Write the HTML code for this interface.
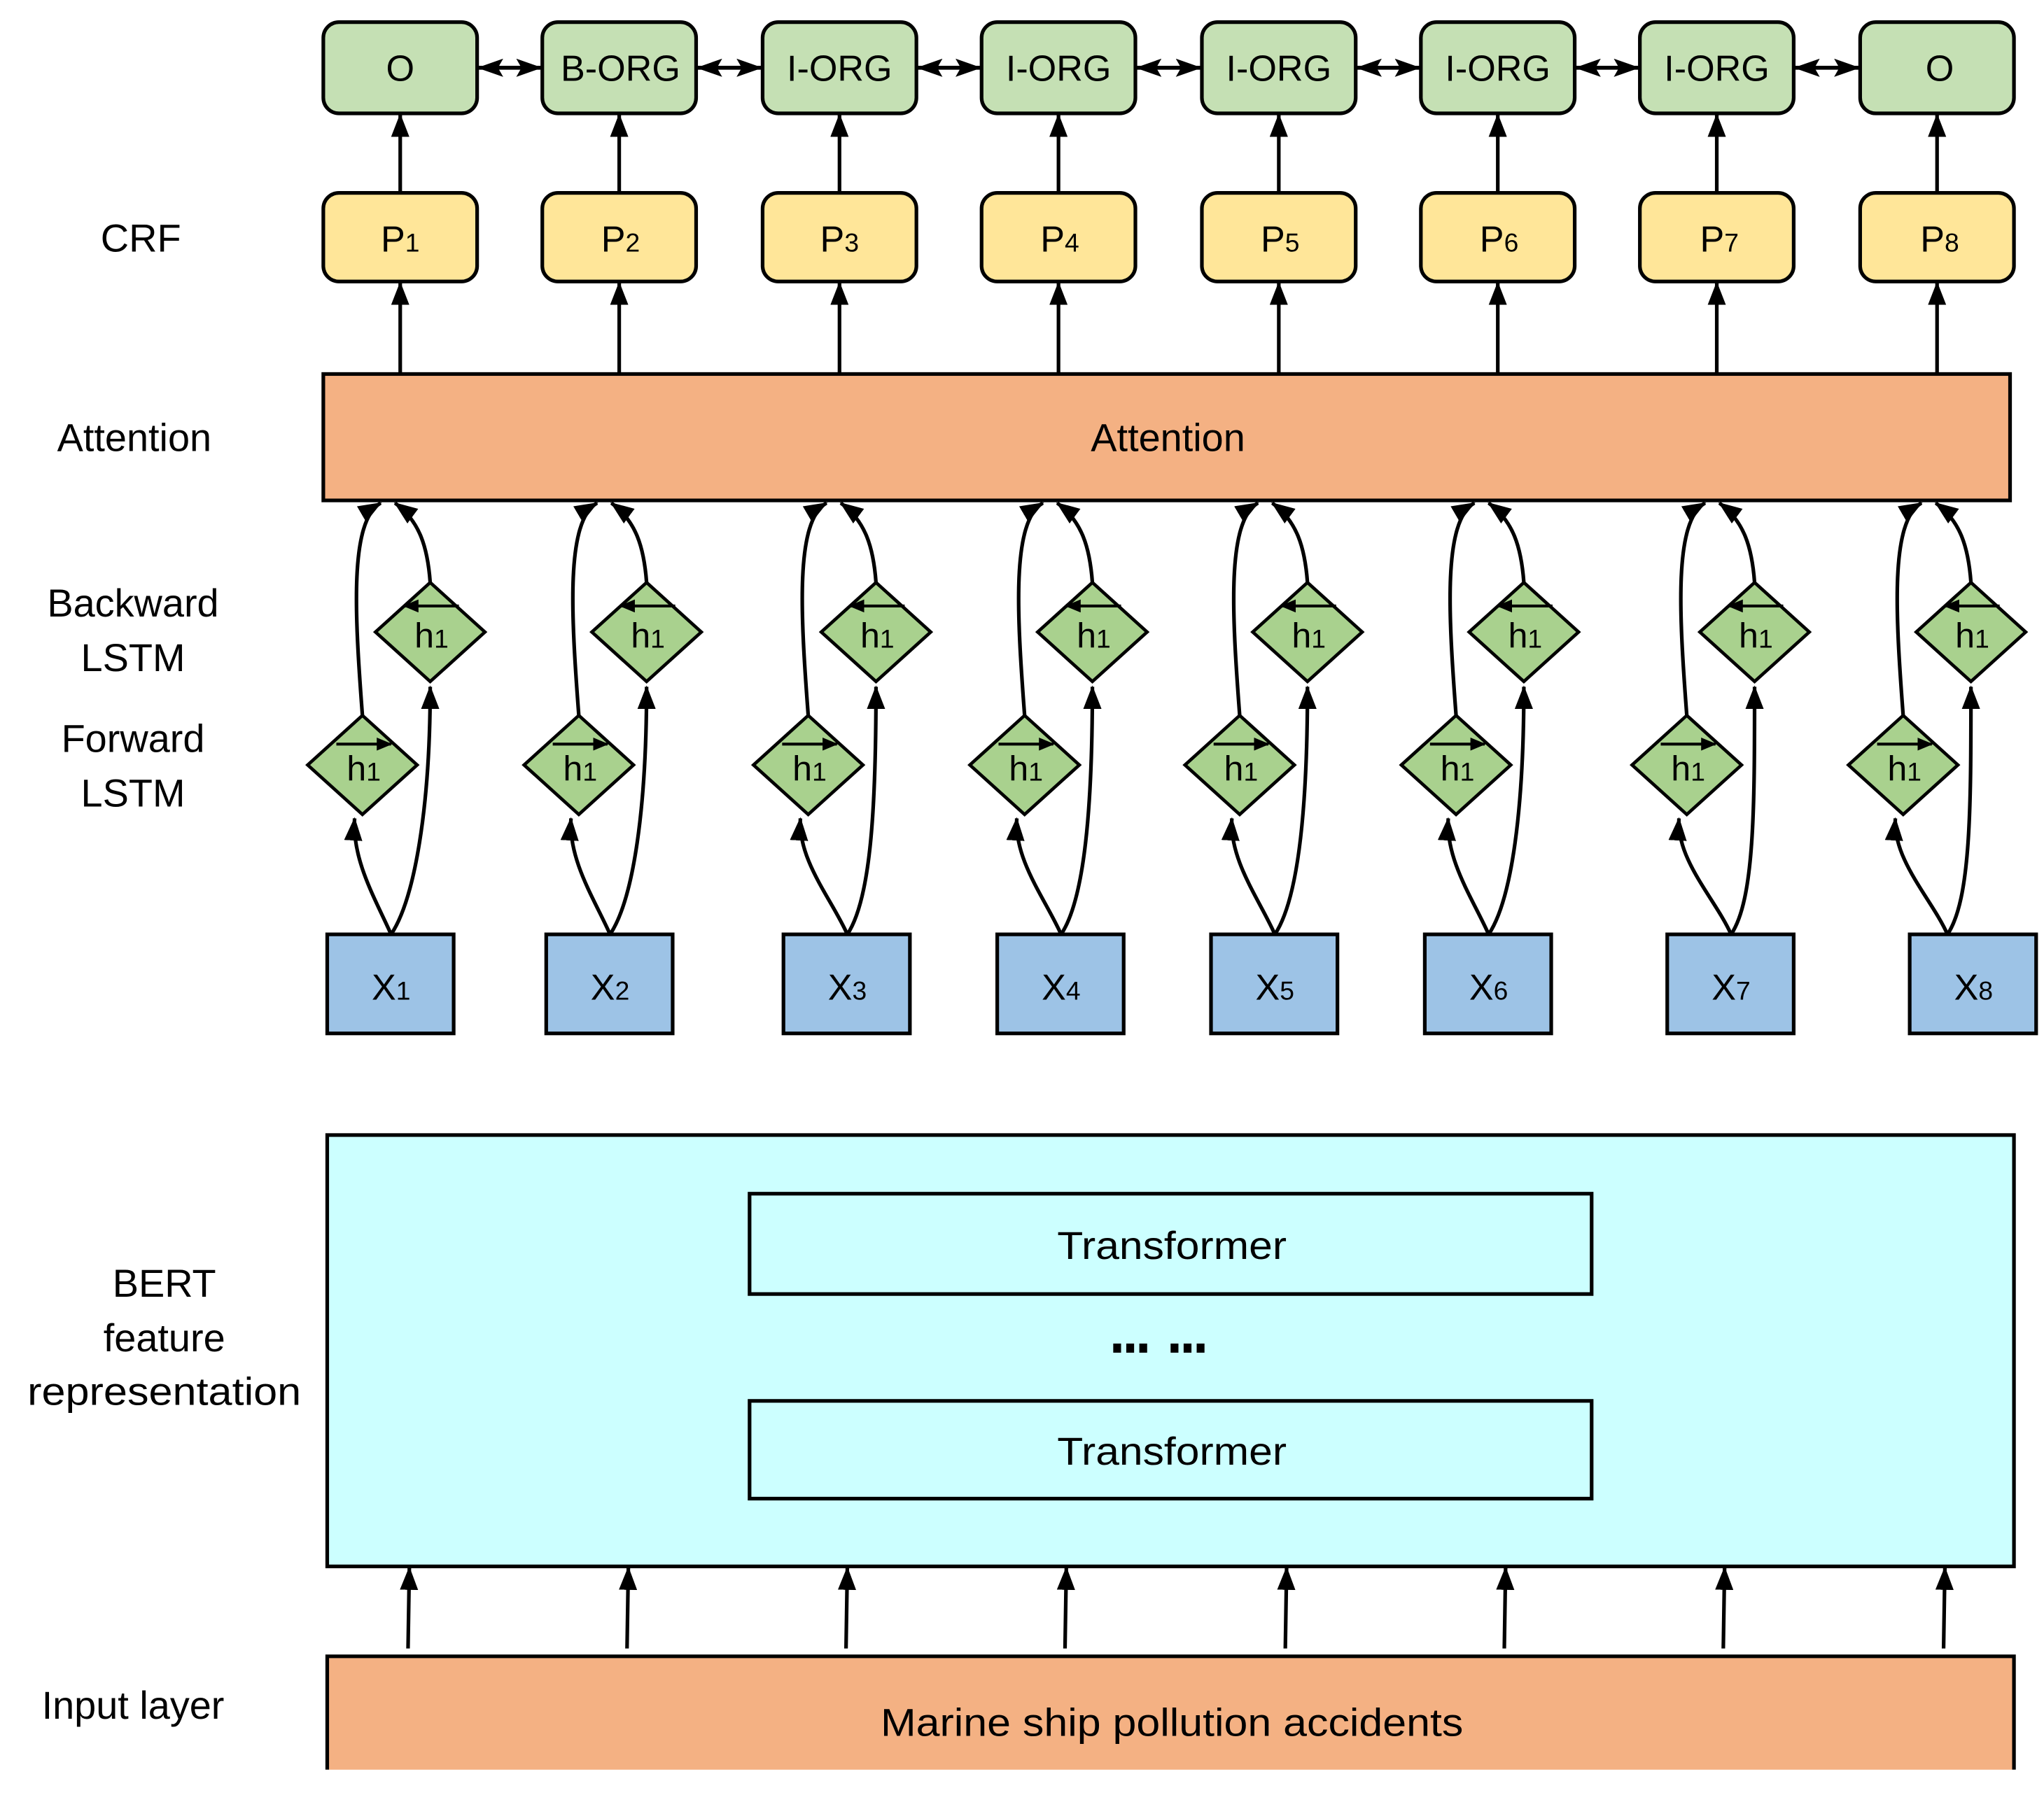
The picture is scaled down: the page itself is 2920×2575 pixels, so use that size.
<!DOCTYPE html>
<html><head><meta charset="utf-8"><style>
html,body{margin:0;padding:0;background:#fff;}
svg{display:block;}
text{font-family:"Liberation Sans",sans-serif;fill:#000;}
</style></head><body>
<svg width="2920" height="2575" viewBox="0 0 1568 1382.8" xmlns="http://www.w3.org/2000/svg">
<defs>
<marker id="a" markerUnits="userSpaceOnUse" markerWidth="18" markerHeight="14" refX="17" refY="7" orient="auto"><path d="M0,0 L18,7 L0,14 Z" fill="#000"/></marker>
<marker id="s" markerUnits="userSpaceOnUse" markerWidth="12" markerHeight="10" refX="11" refY="5" orient="auto"><path d="M0,0 L12,5 L0,10 Z" fill="#000"/></marker>
<marker id="d" markerUnits="userSpaceOnUse" markerWidth="20" markerHeight="14" refX="19" refY="7" orient="auto"><path d="M0,0 L20,7 L0,14 L4,7 Z" fill="#000"/></marker>
<marker id="ds" markerUnits="userSpaceOnUse" markerWidth="20" markerHeight="14" refX="1" refY="7" orient="auto"><path d="M20,0 L0,7 L20,14 L16,7 Z" fill="#000"/></marker>
</defs>

<!-- left labels -->
<g font-size="30" text-anchor="middle">
<text x="108" y="193">CRF</text>
<text x="103" y="346">Attention</text>
<text x="102" y="473">Backward</text>
<text x="102" y="515">LSTM</text>
<text x="102" y="577">Forward</text>
<text x="102" y="619">LSTM</text>
<text x="126" y="995">BERT</text>
<text x="126" y="1037">feature</text>
<text x="126" y="1078" textLength="210" lengthAdjust="spacingAndGlyphs">representation</text>
<text x="102" y="1319">Input layer</text>
</g>

<!-- output label boxes -->
<g fill="#c5e0b4" stroke="#000" stroke-width="2.8">
<rect x="248" y="17" width="118" height="70" rx="12"/>
<rect x="416" y="17" width="118" height="70" rx="12"/>
<rect x="585" y="17" width="118" height="70" rx="12"/>
<rect x="753" y="17" width="118" height="70" rx="12"/>
<rect x="922" y="17" width="118" height="70" rx="12"/>
<rect x="1090" y="17" width="118" height="70" rx="12"/>
<rect x="1258" y="17" width="118" height="70" rx="12"/>
<rect x="1427" y="17" width="118" height="70" rx="12"/>
</g>
<g font-size="28" text-anchor="middle">
<text x="307" y="62">O</text>
<text x="476" y="62">B-ORG</text>
<text x="644" y="62">I-ORG</text>
<text x="812" y="62">I-ORG</text>
<text x="981" y="62">I-ORG</text>
<text x="1149" y="62">I-ORG</text>
<text x="1317" y="62">I-ORG</text>
<text x="1488" y="62">O</text>
</g>
<g stroke="#000" stroke-width="3" marker-start="url(#ds)" marker-end="url(#d)">
<line x1="367" y1="52" x2="415" y2="52"/>
<line x1="535" y1="52" x2="584" y2="52"/>
<line x1="704" y1="52" x2="752" y2="52"/>
<line x1="872" y1="52" x2="921" y2="52"/>
<line x1="1041" y1="52" x2="1089" y2="52"/>
<line x1="1209" y1="52" x2="1257" y2="52"/>
<line x1="1377" y1="52" x2="1426" y2="52"/>
</g>

<!-- P boxes -->
<g fill="#ffe699" stroke="#000" stroke-width="2.8">
<rect x="248" y="148" width="118" height="68" rx="12"/>
<rect x="416" y="148" width="118" height="68" rx="12"/>
<rect x="585" y="148" width="118" height="68" rx="12"/>
<rect x="753" y="148" width="118" height="68" rx="12"/>
<rect x="922" y="148" width="118" height="68" rx="12"/>
<rect x="1090" y="148" width="118" height="68" rx="12"/>
<rect x="1258" y="148" width="118" height="68" rx="12"/>
<rect x="1427" y="148" width="118" height="68" rx="12"/>
</g>
<g font-size="28" text-anchor="middle">
<text x="307" y="193">P<tspan font-size="20">1</tspan></text>
<text x="476" y="193">P<tspan font-size="20">2</tspan></text>
<text x="644" y="193">P<tspan font-size="20">3</tspan></text>
<text x="813" y="193">P<tspan font-size="20">4</tspan></text>
<text x="982" y="193">P<tspan font-size="20">5</tspan></text>
<text x="1150" y="193">P<tspan font-size="20">6</tspan></text>
<text x="1319" y="193">P<tspan font-size="20">7</tspan></text>
<text x="1488" y="193">P<tspan font-size="20">8</tspan></text>
</g>

<!-- vertical arrows -->
<g stroke="#000" stroke-width="2.8" marker-end="url(#a)">
<line x1="307" y1="148" x2="307" y2="88"/><line x1="475" y1="148" x2="475" y2="88"/>
<line x1="644" y1="148" x2="644" y2="88"/><line x1="812" y1="148" x2="812" y2="88"/>
<line x1="981" y1="148" x2="981" y2="88"/><line x1="1149" y1="148" x2="1149" y2="88"/>
<line x1="1317" y1="148" x2="1317" y2="88"/><line x1="1486" y1="148" x2="1486" y2="88"/>
<line x1="307" y1="287" x2="307" y2="217"/><line x1="475" y1="287" x2="475" y2="217"/>
<line x1="644" y1="287" x2="644" y2="217"/><line x1="812" y1="287" x2="812" y2="217"/>
<line x1="981" y1="287" x2="981" y2="217"/><line x1="1149" y1="287" x2="1149" y2="217"/>
<line x1="1317" y1="287" x2="1317" y2="217"/><line x1="1486" y1="287" x2="1486" y2="217"/>
</g>

<!-- Attention -->
<rect x="248" y="287" width="1294" height="97" fill="#f4b183" stroke="#000" stroke-width="2.8"/>
<text x="896" y="346" font-size="30" text-anchor="middle">Attention</text>

<!-- LSTM curves -->
<g fill="none" stroke="#000" stroke-width="2.8" marker-end="url(#a)">
<path d="M300,717 C288,690 270,660 272,628"/><path d="M300,717 C318,690 330,620 330,527"/><path d="M278,549 C272,470 268,400 292,386"/><path d="M330,447 C328,420 322,400 303,386"/>
<path d="M468,717 C456,690 436,660 438,628"/><path d="M468,717 C486,690 496,620 496,527"/><path d="M444,549 C438,470 434,400 458,386"/><path d="M496,447 C494,420 488,400 469,386"/>
<path d="M650,717 C638,690 612,660 614,628"/><path d="M650,717 C668,690 672,620 672,527"/><path d="M620,549 C614,470 610,400 634,386"/><path d="M672,447 C670,420 664,400 645,386"/>
<path d="M814,717 C802,690 778,660 780,628"/><path d="M814,717 C832,690 838,620 838,527"/><path d="M786,549 C780,470 776,400 800,386"/><path d="M838,447 C836,420 830,400 811,386"/>
<path d="M978,717 C966,690 943,660 945,628"/><path d="M978,717 C996,690 1003,620 1003,527"/><path d="M951,549 C945,470 941,400 965,386"/><path d="M1003,447 C1001,420 995,400 976,386"/>
<path d="M1142,717 C1130,690 1109,660 1111,628"/><path d="M1142,717 C1160,690 1169,620 1169,527"/><path d="M1117,549 C1111,470 1107,400 1131,386"/><path d="M1169,447 C1167,420 1161,400 1142,386"/>
<path d="M1328,717 C1316,690 1286,660 1288,628"/><path d="M1328,717 C1346,690 1346,620 1346,527"/><path d="M1294,549 C1288,470 1284,400 1308,386"/><path d="M1346,447 C1344,420 1338,400 1319,386"/>
<path d="M1494,717 C1482,690 1452,660 1454,628"/><path d="M1494,717 C1512,690 1512,620 1512,527"/><path d="M1460,549 C1454,470 1450,400 1474,386"/><path d="M1512,447 C1510,420 1504,400 1485,386"/>
</g>

<!-- diamonds -->
<g fill="#a9d18e" stroke="#000" stroke-width="2.5">
<path d="M278,549 L320,587 L278,625 L236,587 Z"/><path d="M330,447 L372,485 L330,523 L288,485 Z"/>
<path d="M444,549 L486,587 L444,625 L402,587 Z"/><path d="M496,447 L538,485 L496,523 L454,485 Z"/>
<path d="M620,549 L662,587 L620,625 L578,587 Z"/><path d="M672,447 L714,485 L672,523 L630,485 Z"/>
<path d="M786,549 L828,587 L786,625 L744,587 Z"/><path d="M838,447 L880,485 L838,523 L796,485 Z"/>
<path d="M951,549 L993,587 L951,625 L909,587 Z"/><path d="M1003,447 L1045,485 L1003,523 L961,485 Z"/>
<path d="M1117,549 L1159,587 L1117,625 L1075,587 Z"/><path d="M1169,447 L1211,485 L1169,523 L1127,485 Z"/>
<path d="M1294,549 L1336,587 L1294,625 L1252,587 Z"/><path d="M1346,447 L1388,485 L1346,523 L1304,485 Z"/>
<path d="M1460,549 L1502,587 L1460,625 L1418,587 Z"/><path d="M1512,447 L1554,485 L1512,523 L1470,485 Z"/>
</g>
<g stroke="#000" stroke-width="2.2" marker-end="url(#s)">
<line x1="258" y1="571" x2="300" y2="571"/><line x1="352" y1="465" x2="310" y2="465"/>
<line x1="424" y1="571" x2="466" y2="571"/><line x1="518" y1="465" x2="476" y2="465"/>
<line x1="600" y1="571" x2="642" y2="571"/><line x1="694" y1="465" x2="652" y2="465"/>
<line x1="766" y1="571" x2="808" y2="571"/><line x1="860" y1="465" x2="818" y2="465"/>
<line x1="931" y1="571" x2="973" y2="571"/><line x1="1025" y1="465" x2="983" y2="465"/>
<line x1="1097" y1="571" x2="1139" y2="571"/><line x1="1191" y1="465" x2="1149" y2="465"/>
<line x1="1274" y1="571" x2="1316" y2="571"/><line x1="1368" y1="465" x2="1326" y2="465"/>
<line x1="1440" y1="571" x2="1482" y2="571"/><line x1="1534" y1="465" x2="1492" y2="465"/>
</g>
<g font-size="27" text-anchor="middle">
<text x="279" y="599">h<tspan font-size="20">1</tspan></text><text x="331" y="497">h<tspan font-size="20">1</tspan></text>
<text x="445" y="599">h<tspan font-size="20">1</tspan></text><text x="497" y="497">h<tspan font-size="20">1</tspan></text>
<text x="621" y="599">h<tspan font-size="20">1</tspan></text><text x="673" y="497">h<tspan font-size="20">1</tspan></text>
<text x="787" y="599">h<tspan font-size="20">1</tspan></text><text x="839" y="497">h<tspan font-size="20">1</tspan></text>
<text x="952" y="599">h<tspan font-size="20">1</tspan></text><text x="1004" y="497">h<tspan font-size="20">1</tspan></text>
<text x="1118" y="599">h<tspan font-size="20">1</tspan></text><text x="1170" y="497">h<tspan font-size="20">1</tspan></text>
<text x="1295" y="599">h<tspan font-size="20">1</tspan></text><text x="1347" y="497">h<tspan font-size="20">1</tspan></text>
<text x="1461" y="599">h<tspan font-size="20">1</tspan></text><text x="1513" y="497">h<tspan font-size="20">1</tspan></text>
</g>

<!-- X boxes -->
<g fill="#9dc3e6" stroke="#000" stroke-width="2.8">
<rect x="251" y="717" width="97" height="76"/><rect x="419" y="717" width="97" height="76"/>
<rect x="601" y="717" width="97" height="76"/><rect x="765" y="717" width="97" height="76"/>
<rect x="929" y="717" width="97" height="76"/><rect x="1093" y="717" width="97" height="76"/>
<rect x="1279" y="717" width="97" height="76"/><rect x="1465" y="717" width="97" height="76"/>
</g>
<g font-size="28" text-anchor="middle">
<text x="300" y="767">X<tspan font-size="20">1</tspan></text>
<text x="468" y="767">X<tspan font-size="20">2</tspan></text>
<text x="650" y="767">X<tspan font-size="20">3</tspan></text>
<text x="814" y="767">X<tspan font-size="20">4</tspan></text>
<text x="978" y="767">X<tspan font-size="20">5</tspan></text>
<text x="1142" y="767">X<tspan font-size="20">6</tspan></text>
<text x="1328" y="767">X<tspan font-size="20">7</tspan></text>
<text x="1514" y="767">X<tspan font-size="20">8</tspan></text>
</g>

<!-- BERT -->
<rect x="251" y="871" width="1294" height="331" fill="#ccffff" stroke="#000" stroke-width="2.8"/>
<rect x="575" y="916" width="646" height="77" fill="#ccffff" stroke="#000" stroke-width="2.8"/>
<rect x="575" y="1075" width="646" height="75" fill="#ccffff" stroke="#000" stroke-width="2.8"/>
<g font-size="30" text-anchor="middle">
<text x="899" y="966" textLength="176" lengthAdjust="spacingAndGlyphs">Transformer</text>
<text x="899" y="1124" textLength="176" lengthAdjust="spacingAndGlyphs">Transformer</text>
</g>
<g fill="#000">
<rect x="854" y="1031" width="6" height="7"/><rect x="864" y="1031" width="6" height="7"/><rect x="874" y="1031" width="6" height="7"/>
<rect x="898" y="1031" width="6" height="7"/><rect x="908" y="1031" width="6" height="7"/><rect x="918" y="1031" width="6" height="7"/>
</g>

<!-- input arrows -->
<g stroke="#000" stroke-width="2.8" marker-end="url(#a)">
<line x1="313" y1="1265" x2="314" y2="1203"/><line x1="481" y1="1265" x2="482" y2="1203"/>
<line x1="649" y1="1265" x2="650" y2="1203"/><line x1="817" y1="1265" x2="818" y2="1203"/>
<line x1="986" y1="1265" x2="987" y2="1203"/><line x1="1154" y1="1265" x2="1155" y2="1203"/>
<line x1="1322" y1="1265" x2="1323" y2="1203"/><line x1="1491" y1="1265" x2="1492" y2="1203"/>
</g>

<!-- input layer -->
<rect x="251" y="1271" width="1294" height="90" fill="#f4b183"/>
<path d="M251,1358 L251,1271 L1545,1271 L1545,1358" fill="none" stroke="#000" stroke-width="2.8"/>
<rect x="0" y="1358" width="1568" height="30" fill="#fff"/>
<text x="899" y="1332" font-size="30" text-anchor="middle" textLength="447" lengthAdjust="spacingAndGlyphs">Marine ship pollution accidents</text>
</svg>
</body></html>
